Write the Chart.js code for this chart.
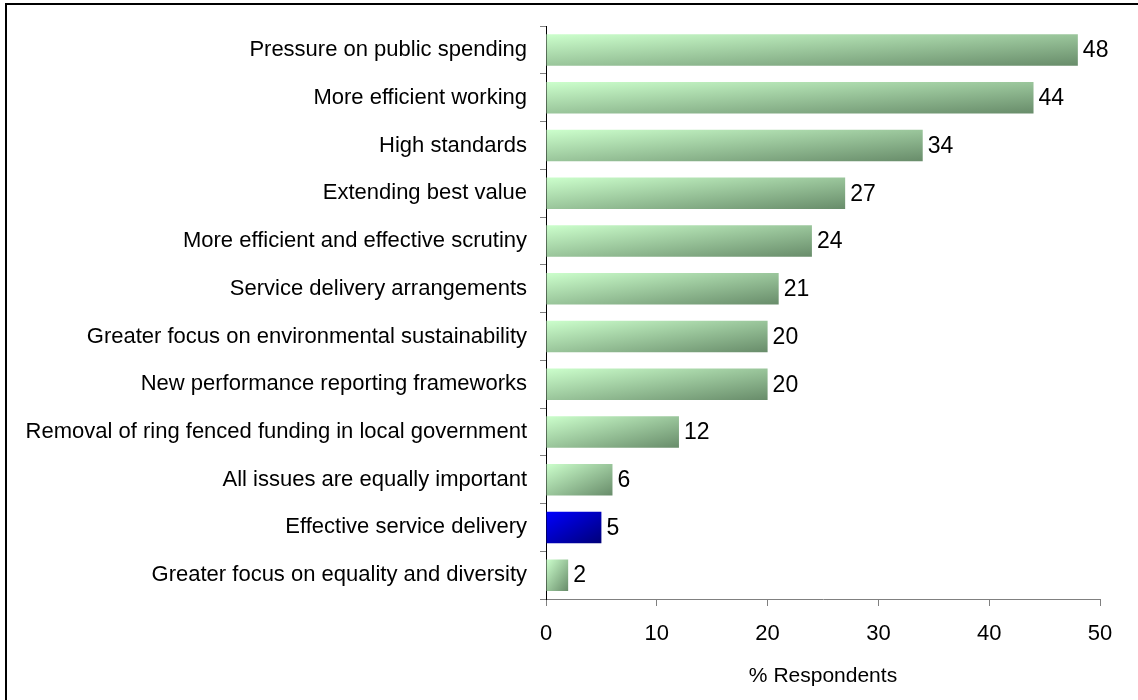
<!DOCTYPE html>
<html>
<head>
<meta charset="utf-8">
<title>% Respondents</title>
<script src="https://cdn.jsdelivr.net/npm/chart.js@4.4.1/dist/chart.umd.min.js"></script>
<style>
    html, body { margin: 0; padding: 0; background: #fff; overflow: hidden; }
    #frame {
        position: absolute; left: 5px; top: 3px;
        width: 1300px; height: 800px;
        border-left: 2px solid #000; border-top: 2px solid #000;
    }
    #wrap { position: absolute; left: 0; top: 0; width: 1138px; height: 700px; }
</style>
</head>
<body>
<div id="frame"></div>
<div id="wrap"><canvas id="driversChart"></canvas></div>
<script>
const categories = [
    "Pressure on public spending",
    "More efficient working",
    "High standards",
    "Extending best value",
    "More efficient and effective scrutiny",
    "Service delivery arrangements",
    "Greater focus on environmental sustainability",
    "New performance reporting frameworks",
    "Removal of ring fenced funding in local government",
    "All issues are equally important",
    "Effective service delivery",
    "Greater focus on equality and diversity",
];
const percentages = [48, 44, 34, 27, 24, 21, 20, 20, 12, 6, 5, 2];
const highlighted = "Effective service delivery";
const xTicks = [0, 10, 20, 30, 40, 50];

const greenStops = ["#ccffcc", "#688c6a"];
const blueStops = ["#0000ff", "#000078"];

Chart.defaults.font.family = "'Liberation Sans', Arial, sans-serif";
Chart.defaults.color = "#000";

// diagonal fill, light at top-left and dark at bottom-right of each bar
const shadedBars = {
    id: "shadedBars",
    beforeDatasetsDraw(chart) {
        const ctx = chart.ctx;
        chart.getDatasetMeta(0).data.forEach((bar, i) => {
            const { x, y, base, height } = bar.getProps(["x", "y", "base", "height"], true);
            const x0 = Math.min(base, x);
            const w = Math.max(Math.abs(x - base), 1);
            const h = Math.max(height, 1);
            const y0 = y - h / 2;
            const k = 2 / (1 / (w * w) + 1 / (h * h));
            const g = ctx.createLinearGradient(x0, y0, x0 + k / w, y0 + k / h);
            const stops = categories[i] === highlighted ? blueStops : greenStops;
            g.addColorStop(0, stops[0]);
            g.addColorStop(1, stops[1]);
            bar.options.backgroundColor = g;
        });
    },
};

const valueLabels = {
    id: "valueLabels",
    afterDatasetsDraw(chart) {
        const ctx = chart.ctx;
        ctx.save();
        ctx.font = "23px 'Liberation Sans', Arial, sans-serif";
        ctx.fillStyle = "#000";
        ctx.textAlign = "left";
        ctx.textBaseline = "middle";
        chart.getDatasetMeta(0).data.forEach((bar, i) => {
            ctx.fillText(String(percentages[i]), bar.x + 5, bar.y + 1);
        });
        ctx.restore();
    },
};

new Chart(document.getElementById("driversChart"), {
    type: "bar",
    data: {
        labels: categories,
        datasets: [
            {
                label: "% Respondents",
                data: percentages,
                // scriptable so every bar keeps its own options object
                backgroundColor: (c) => (categories[c.dataIndex] === highlighted ? blueStops[0] : greenStops[0]),
                borderWidth: 0,
                barPercentage: 0.66,
                categoryPercentage: 1,
            },
        ],
    },
    options: {
        indexAxis: "y",
        responsive: true,
        maintainAspectRatio: false,
        animation: false,
        layout: { padding: { top: 23, right: 38, bottom: 0, left: 0 } },
        plugins: {
            legend: { display: false },
            tooltip: { enabled: false },
        },
        scales: {
            x: {
                min: 0,
                max: 50,
                afterBuildTicks(scale) {
                    scale.ticks = xTicks.map((v) => ({ value: v }));
                },
                afterFit(scale) {
                    scale.height = 101;
                },
                grid: { drawOnChartArea: false, tickLength: 7, color: "#808080" },
                border: { color: "#808080" },
                ticks: { padding: 15, font: { size: 22 } },
                title: {
                    display: true,
                    text: "% Respondents",
                    font: { size: 21 },
                    padding: { top: 0, bottom: 11 },
                },
            },
            y: {
                afterFit(scale) {
                    scale.width = 546;
                },
                grid: { drawOnChartArea: false, tickLength: 6, color: "#808080", offset: true },
                border: { color: "#000" },
                ticks: { padding: 13, autoSkip: false, font: { size: 22 } },
            },
        },
    },
    plugins: [shadedBars, valueLabels],
});
</script>
</body>
</html>
